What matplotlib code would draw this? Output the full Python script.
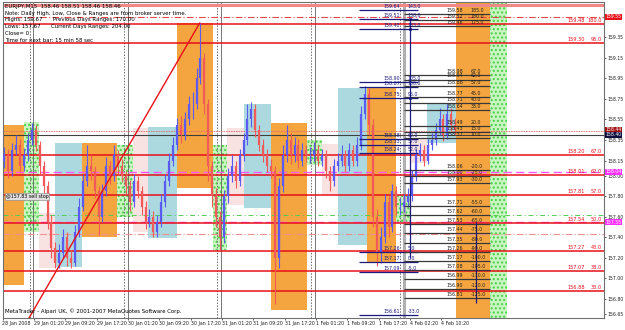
import matplotlib.pyplot as plt
import matplotlib.transforms as mtransforms
import numpy as np

# ---- data (x in trading hours from 28 Jan 17:20, y = EURJPY price) ----
tick_hours = [0, 8, 16, 24, 32, 40, 48, 56, 64, 72, 80, 88, 96, 104, 112]
tick_labels = ["28 Jan 2008", "29 Jan 01:20", "29 Jan 09:20", "29 Jan 17:20",
               "30 Jan 01:20", "30 Jan 09:20", "30 Jan 17:20", "31 Jan 01:20",
               "31 Jan 09:20", "31 Jan 17:20", "1 Feb 01:20", "1 Feb 09:20",
               "1 Feb 17:20", "4 Feb 02:20", "4 Feb 10:20"]
price_ticks = [159.35, 159.15, 158.95, 158.75, 158.55, 158.35, 158.15, 158.00,
               157.80, 157.60, 157.40, 157.20, 157.00, 156.80, 156.65]

closes = [158.20, 158.05, 158.25, 158.30, 158.10, 158.20, 158.35, 158.45, 158.30, 158.10,
          157.90, 157.55, 157.30, 157.15, 157.25, 157.40, 157.20, 157.15, 157.45, 157.70,
          157.95, 158.10, 158.05, 157.85, 157.60, 157.85, 158.10, 158.00, 158.20, 158.10,
          158.00, 157.90, 157.75, 157.95, 157.85, 157.70, 157.55, 157.60, 157.45, 157.55,
          157.75, 157.95, 158.15, 158.30, 158.50, 158.40, 158.55, 158.70, 158.70, 158.95,
          159.15, 158.70, 158.10, 157.80, 157.60, 157.40, 157.80, 158.00, 158.10, 157.95,
          158.20, 158.35, 158.55, 158.65, 158.45, 158.30, 158.20, 158.10, 158.05, 157.20,
          157.90, 158.20, 158.35, 158.20, 158.30, 158.15, 158.25, 158.20, 158.20, 158.25,
          158.15, 158.20, 158.05, 157.95, 158.10, 158.15, 158.20, 158.10, 158.25, 158.15,
          158.30, 158.60, 158.80, 158.50, 157.60, 157.25, 157.40, 157.75, 157.50, 157.85,
          157.70, 157.70, 157.75, 157.80, 158.00, 158.20, 158.25, 158.15, 158.30, 158.35,
          158.45, 158.55, 158.40, 158.60, 158.50, 158.45]
highs = [158.28, 158.26, 158.32, 158.40, 158.36, 158.27, 158.42, 158.52, 158.50, 158.34,
         158.15, 157.95, 157.62, 157.36, 157.34, 157.48, 157.45, 157.28, 157.52, 157.78,
         158.02, 158.30, 158.20, 158.10, 157.90, 157.92, 158.18, 158.15, 158.30, 158.25,
         158.16, 158.05, 157.96, 158.02, 158.00, 157.90, 157.76, 157.68, 157.66, 157.62,
         157.82, 158.02, 158.22, 158.38, 158.56, 158.58, 158.62, 158.78, 158.82, 159.05,
         159.49, 159.20, 158.75, 158.15, 157.88, 157.66, 157.86, 158.08, 158.20, 158.15,
         158.26, 158.42, 158.70, 158.72, 158.70, 158.50, 158.36, 158.26, 158.16, 158.10,
         157.98, 158.30, 158.50, 158.42, 158.38, 158.36, 158.32, 158.30, 158.28, 158.33,
         158.30, 158.26, 158.25, 158.10, 158.16, 158.22, 158.30, 158.25, 158.32, 158.30,
         158.38, 158.68, 158.88, 158.86, 158.55, 157.68, 157.50, 157.82, 157.80, 157.92,
         157.90, 157.78, 157.82, 157.88, 158.06, 158.26, 158.32, 158.30, 158.36, 158.42,
         158.52, 158.66, 158.60, 158.70, 158.66, 158.56]
lows = [158.08, 157.98, 158.00, 158.20, 158.04, 158.05, 158.15, 158.30, 158.24, 158.02,
        157.82, 157.48, 157.20, 157.10, 157.10, 157.20, 157.12, 157.10, 157.12, 157.40,
        157.66, 157.90, 157.96, 157.78, 157.42, 157.55, 157.80, 157.92, 157.95, 158.02,
        157.94, 157.82, 157.66, 157.70, 157.78, 157.62, 157.48, 157.50, 157.40, 157.40,
        157.50, 157.70, 157.90, 158.10, 158.25, 158.32, 158.35, 158.50, 158.55, 158.65,
        158.90, 158.60, 157.95, 157.70, 157.50, 157.28, 157.35, 157.74, 157.94, 157.88,
        157.90, 158.15, 158.30, 158.48, 158.38, 158.24, 158.14, 158.04, 157.98, 156.75,
        157.10, 157.84, 158.14, 158.12, 158.14, 158.08, 158.10, 158.14, 158.13, 158.15,
        158.10, 158.10, 157.98, 157.85, 157.90, 158.05, 158.10, 158.04, 158.05, 158.10,
        158.10, 158.25, 158.55, 158.40, 157.50, 157.12, 157.15, 157.35, 157.40, 157.45,
        157.62, 157.62, 157.65, 157.70, 157.76, 157.95, 158.15, 158.10, 158.12, 158.25,
        158.30, 158.40, 158.34, 158.36, 158.44, 158.40]

# session boxes
sess_start = [-2, 5.4, 9.2, 13.5, 20.4, 29.3, 33.4, 37.2, 44.6, 53.6, 57.4, 61.5, 68.6,
              77.6, 81.6, 85.5, 93.1, 100.3, 104.1, 108.4, 115.6, 124.5]
sess_end = [5.4, 9.2, 13.5, 20.4, 29.3, 33.4, 37.2, 44.6, 53.6, 57.4, 61.5, 68.6, 77.6,
            81.6, 85.5, 93.1, 100.3, 104.1, 108.4, 115.6, 124.5, 128.6]
sess_top = [158.50, 158.53, 157.64, 158.32, 158.32, 158.30, 158.47, 158.48, 159.49, 158.30,
            158.47, 158.70, 158.52, 158.35, 158.31, 158.86, 158.87, 157.81, 158.37, 158.71,
            159.70, 159.70]
sess_bot = [156.94, 157.45, 157.10, 157.11, 157.40, 157.60, 157.45, 157.39, 157.88, 157.28,
            157.72, 157.69, 156.69, 158.11, 157.81, 157.33, 157.15, 157.55, 158.13, 158.32,
            156.60, 156.60]
sess_kind = ["eu", "us", "late", "asia", "eu", "us", "late", "asia", "eu", "us", "late",
             "asia", "eu", "us", "late", "asia", "eu", "us", "late", "asia", "eu", "us"]

trend_x = [6.4, 50.3]
trend_y = [156.59, 159.49]

day_sep = [6.9, 31.1, 54.8, 78.8, 101.5]

red_lv = [159.48, 159.30, 158.20, 158.01, 157.81, 157.54, 157.27, 157.07, 156.88]
red_txt = ["159.48", "159.30", "158.20", "158.01", "157.81", "157.54", "157.27", "157.07", "156.88"]
red_val = ["180.0", "95.0", "67.0", "62.0", "57.0", "50.0", "43.0", "38.0", "33.0"]

nv_lv = [159.62, 159.53, 159.43, 158.92, 158.87, 158.76, 158.36, 158.30, 158.22,
         157.26, 157.16, 157.06, 156.64]
nv_txt = ["159.64", "159.51", "159.40", "158.90", "158.87", "158.75", "158.38", "158.33",
          "158.24", "157.26", "157.17", "157.09", "156.61"]
nv_val = ["143.0", "138.0", "133.0", "105.0", "100.0", "95.0", "62.0", "57.0", "52.0",
          "5.0", "0.0", "-5.0", "-33.0"]

gr_lv = [159.58, 159.52, 159.46, 158.98, 158.94, 158.88, 158.77, 158.71, 158.64, 158.49,
         158.43, 158.37, 158.06, 158.00, 157.93, 157.71, 157.62, 157.53, 157.44, 157.35,
         157.26, 157.17, 157.08, 156.99, 156.90, 156.81]
gr_val = ["185.0", "180.0", "175.0", "67.0", "62.0", "57.0", "45.0", "40.0", "33.0", "20.0",
          "15.0", "10.0", "-20.0", "-25.0", "-30.0", "-55.0", "-60.0", "-65.0", "-75.0",
          "-80.0", "-90.0", "-100.0", "-105.0", "-110.0", "-120.0", "-125.0"]

info_lines = ["EURJPY,M15  158.46 158.51 158.46 158.46",
              "Note: Daily High, Low, Close & Ranges are from broker server time.",
              "Highs: 159.67      Previous Days Ranges: 170.00",
              "Lows: 157.67      Current Days Ranges: 204.00",
              "Close= 0",
              "Time for next bar: 15 min 58 sec"]

# ---- plot ----
fig = plt.figure(figsize=(6.25, 3.3), dpi=100)
ax = fig.add_axes([0.004, 0.036, 0.962, 0.958])
ax.set_xlim(0, 153.4)
ax.set_ylim(156.613, 159.696)

kind_col = {"eu": "#f5a540", "asia": "#abd9df", "late": "#f8e2e2", "us": "#a8eca8"}
for s, e, t, b, k in zip(sess_start, sess_end, sess_top, sess_bot, sess_kind):
    if k == "us":
        ax.bar(s, t - b, bottom=b, width=e - s, align="edge", color="#c8f5c0",
               hatch="....", edgecolor="#4ccf4c", linewidth=0, zorder=1)
    else:
        ax.bar(s, t - b, bottom=b, width=e - s, align="edge", color=kind_col[k],
               linewidth=0, zorder=1)

for d in day_sep:
    ax.axvline(d, color="#707070", lw=0.7, ls=(0, (1.5, 1.5)), zorder=2)
    ax.axvline(d + 0.9, color="#606060", lw=0.6, zorder=2)
ax.axvline(day_sep[-1] + 0.9, color="#b0b0b0", lw=2.2, zorder=2)

# full-width levels
ax.axhline(159.67, color="#f08888", lw=2.2, zorder=2)
ax.axhline(159.55, color="#e04848", lw=0.8, ls=(0, (6, 2, 1, 2)), zorder=2)
ax.axhline(157.43, color="#f09090", lw=0.8, ls=(0, (6, 2, 1, 2)), zorder=2)
ax.axhline(157.62, color="#55cc55", lw=0.7, ls=(0, (5, 3, 1, 3)), zorder=2)
ax.axhline(158.04, color="#ff55ff", lw=1.0, ls=(0, (6, 3)), zorder=2)
ax.axhline(157.55, color="#ff55ff", lw=1.0, ls=(0, (6, 3)), zorder=2)
ax.axhline(158.44, color="#e07070", lw=0.6, ls=(0, (2, 1)), zorder=2)
ax.axhline(158.40, color="#404040", lw=0.8, zorder=2)
for lv, tx, vl in zip(red_lv, red_txt, red_val):
    ax.axhline(lv, color="#e8101a", lw=1.1, zorder=2)
    ax.text(148.6, lv + 0.01, tx, fontsize=3.6, color="#e8101a", ha="right", va="bottom", zorder=5)
    ax.text(153.0, lv + 0.01, vl, fontsize=3.6, color="#e8101a", ha="right", va="bottom", zorder=5)

# candles
opens = [closes[0] - 0.05] + closes[:-1]
hrs = np.arange(len(closes)) + 0.5
cols = ["#5a5af5" if c >= o else "#f25a5a" for o, c in zip(opens, closes)]
ax.vlines(hrs, lows, highs, colors=cols, lw=0.8, zorder=3)
ax.vlines(hrs, np.minimum(opens, closes), np.maximum(opens, closes), colors=cols, lw=1.6, zorder=3)

ax.plot(trend_x, trend_y, color="#e8101a", lw=1.0, zorder=3)

# pivot style levels
for lv, tx, vl in zip(nv_lv, nv_txt, nv_val):
    ax.hlines(lv, 91.0, 106.0, color="#1a1a80", lw=0.9, zorder=4)
    ax.text(101.5, lv + 0.01, tx, fontsize=3.4, color="#1a1a80", ha="right", va="bottom", zorder=5)
    ax.text(103.3, lv + 0.01, vl, fontsize=3.4, color="#1a1a80", ha="left", va="bottom", zorder=5)
for lv, vl in zip(gr_lv, gr_val):
    ax.hlines(lv, 102.5, 124.5, color="#383838", lw=0.9, zorder=4)
    ax.text(117.6, lv + 0.01, "%.2f" % lv, fontsize=3.4, color="#202020", ha="right", va="bottom", zorder=5)
    ax.text(119.4, lv + 0.01, vl, fontsize=3.4, color="#202020", ha="left", va="bottom", zorder=5)
ax.vlines(104.0, 157.2, 159.53, color="#1a1a80", lw=0.9, zorder=4)
ax.vlines(120.7, 156.76, 157.55, color="#1a1a80", lw=0.9, zorder=4)
ax.plot([104.0, 104.0, 104.0], [159.53, 159.43, 158.76], ls="none", marker="s", ms=2,
        mfc="none", mec="#1a1a80", mew=0.6, zorder=4)

# texts
for i, line in enumerate(info_lines):
    ax.text(0.004, 0.995 - i * 0.022, line, transform=ax.transAxes, fontsize=3.9,
            color="black", ha="left", va="top", zorder=6)
ax.text(0.004, 0.012, "MetaTrader - Alpari UK, \u00a9 2001-2007 MetaQuotes Software Corp.",
        transform=ax.transAxes, fontsize=3.9, color="black", ha="left", va="bottom", zorder=6)
ax.text(0.8, 157.80, "@157.83 sell stop", fontsize=3.4, color="black", ha="left", va="center",
        zorder=6, bbox=dict(boxstyle="square,pad=0.15", fc="#e0e0e0", ec="#808080", lw=0.4))

# axes styling
ax.yaxis.tick_right()
ax.set_yticks(price_ticks)
ax.set_yticklabels(["%.2f" % p for p in price_ticks])
ax.set_xticks(tick_hours)
ax.set_xticklabels(tick_labels, ha="left")
ax.tick_params(axis="both", length=1.5, width=0.5, pad=0.8, colors="#202020")
ax.tick_params(axis="x", labelsize=3.4)
ax.tick_params(axis="y", labelsize=3.3)
for sp in ax.spines.values():
    sp.set_color("#707070")
    sp.set_linewidth(0.8)

trans = mtransforms.blended_transform_factory(ax.transAxes, ax.transData)
tags = [(159.55, "159.55", "#e8101a", "white"), (158.45, "158.44", "#a01010", "white"),
        (158.40, "158.40", "#101040", "white"), (158.04, "158.04", "#ff30ff", "white"),
        (157.55, "157.55", "#ff30ff", "white")]
for p, tx, fc, tc in tags:
    ax.text(1.003, p, tx, transform=trans, fontsize=3.3, color=tc, ha="left", va="center",
            zorder=7, clip_on=False, bbox=dict(boxstyle="square,pad=0.1", fc=fc, ec=fc, lw=0))

fig.savefig("out.png", dpi=100)
